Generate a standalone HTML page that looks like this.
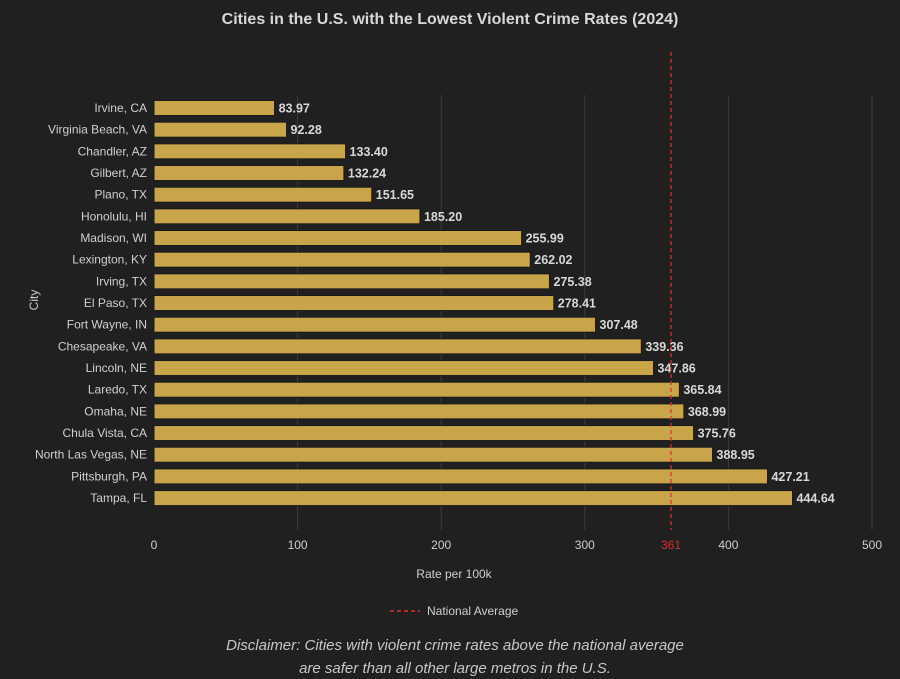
<!DOCTYPE html>
<html><head><meta charset="utf-8"><style>
html,body{margin:0;padding:0;background:#202020;}
svg{display:block;font-family:"Liberation Sans",Arial,sans-serif;}
</style></head><body>
<svg width="900" height="679" viewBox="0 0 900 679">
<rect width="900" height="679" fill="#202020"/>
<text x="450" y="24" fill="#d8d8d8" font-size="16" font-weight="bold" text-anchor="middle">Cities in the U.S. with the Lowest Violent Crime Rates (2024)</text>
<g stroke="#3c3c3c" stroke-width="1">
<line x1="297.6" y1="95" x2="297.6" y2="530"/>
<line x1="441.2" y1="95" x2="441.2" y2="530"/>
<line x1="584.8" y1="95" x2="584.8" y2="530"/>
<line x1="728.4" y1="95" x2="728.4" y2="530"/>
<line x1="872" y1="95" x2="872" y2="530"/>
</g>
<g id="bars" fill="#c9a54a" stroke="#1a1a1a" stroke-width="1"></g>
<g id="labels" font-size="12" fill="#d0d0d0" text-anchor="end"></g>
<g id="vals" font-size="12.5" font-weight="bold" fill="#d8d8d8"></g>
<line x1="671" y1="52" x2="671" y2="530" stroke="#e03030" stroke-width="1.2" stroke-dasharray="4,3"/>
<g font-size="12" fill="#cfcfcf" text-anchor="middle">
<text x="154" y="549">0</text><text x="297.6" y="549">100</text><text x="441.2" y="549">200</text>
<text x="584.8" y="549">300</text><text x="728.4" y="549">400</text><text x="872" y="549">500</text>
<text x="671" y="549" fill="#d03030">361</text>
<text x="454" y="578">Rate per 100k</text>
</g>
<text x="38" y="300" font-size="12" fill="#cfcfcf" text-anchor="middle" transform="rotate(-90 38 300)">City</text>
<line x1="390" y1="611" x2="420" y2="611" stroke="#e03030" stroke-width="1.5" stroke-dasharray="4,3"/>
<text x="427" y="615" font-size="12" fill="#cfcfcf">National Average</text>
<g font-size="15" font-style="italic" fill="#c8c8c8" text-anchor="middle">
<text x="455" y="650">Disclaimer: Cities with violent crime rates above the national average</text>
<text x="455" y="673">are safer than all other large metros in the U.S.</text>
</g>
</svg>
<script>
var d=[["Irvine, CA",83.97],["Virginia Beach, VA",92.28],["Chandler, AZ",133.40],["Gilbert, AZ",132.24],["Plano, TX",151.65],["Honolulu, HI",185.20],["Madison, WI",255.99],["Lexington, KY",262.02],["Irving, TX",275.38],["El Paso, TX",278.41],["Fort Wayne, IN",307.48],["Chesapeake, VA",339.36],["Lincoln, NE",347.86],["Laredo, TX",365.84],["Omaha, NE",368.99],["Chula Vista, CA",375.76],["North Las Vegas, NE",388.95],["Pittsburgh, PA",427.21],["Tampa, FL",444.64]];
var ns="http://www.w3.org/2000/svg",b=document.getElementById("bars"),l=document.getElementById("labels"),v=document.getElementById("vals");
d.forEach(function(r,i){var c=108+i*21.67,w=r[1]*1.436;
var e=document.createElementNS(ns,"rect");e.setAttribute("x",154);e.setAttribute("y",c-7.5);e.setAttribute("width",w);e.setAttribute("height",15);b.appendChild(e);
var t=document.createElementNS(ns,"text");t.setAttribute("x",147);t.setAttribute("y",c+4);t.textContent=r[0];l.appendChild(t);
var u=document.createElementNS(ns,"text");u.setAttribute("x",154+w+4);u.setAttribute("y",c+4.5);u.textContent=r[1].toFixed(2);v.appendChild(u);});
</script>
</body></html>
